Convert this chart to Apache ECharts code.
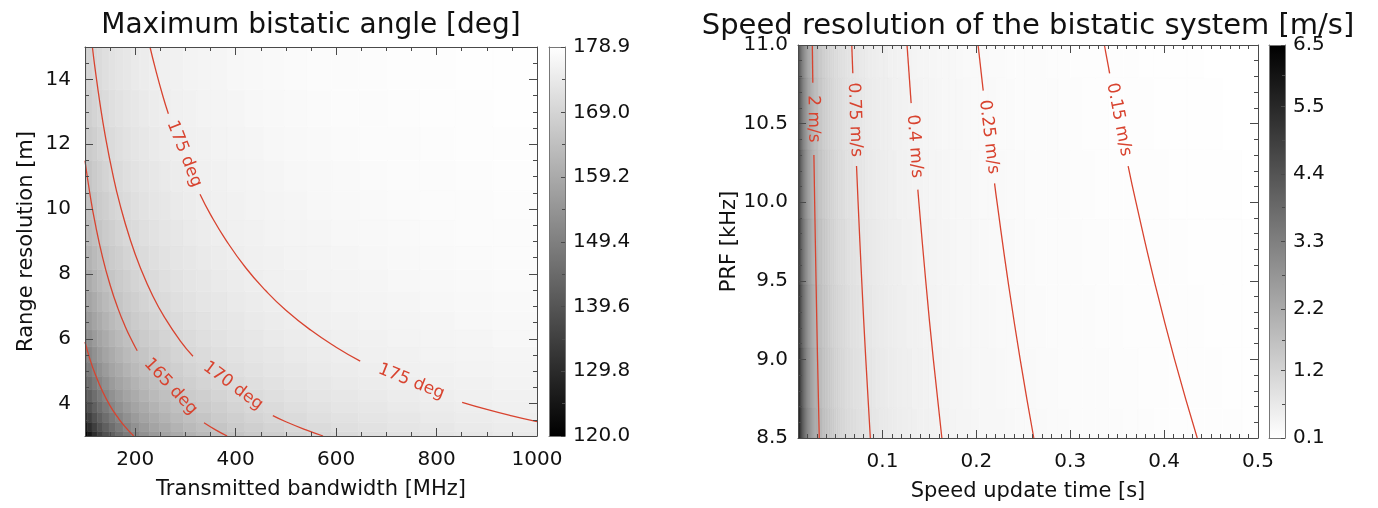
<!DOCTYPE html>
<html>
<head>
<meta charset="utf-8">
<script src="https://cdn.jsdelivr.net/npm/echarts@6/dist/echarts.min.js"></script>
<style>
  html, body { margin: 0; padding: 0; background: #ffffff; }
  #chart { width: 1378px; height: 508px; }
</style>
</head>
<body>
<div id="chart"></div>
<script>
// ---------- Panel 1: maximum bistatic angle ----------
// sample points (cell centres), spaced more finely where the angle changes fastest
const bandwidthMHz = [100, 109.05, 118.92, 129.68, 141.42, 154.22, 168.18, 183.40, 200, 218.10, 237.84,
  259.37, 282.84, 308.44, 336.36, 366.80, 400, 436.20, 475.68, 518.74, 565.69, 616.88, 672.72, 733.61,
  800, 872.41, 951.37];
const rangeResolutionM = [3, 3.2715, 3.5676, 3.8906, 4.2426, 4.6266, 5.0454, 5.5021, 6, 6.5431, 7.1352,
  7.7811, 8.4853, 9.2533, 10.0908, 11.0041, 12, 13.0861, 14.2705];
// one row per range resolution, one column per bandwidth, degrees
const bistaticAngleDeg = [
  [120.0, 125.4, 130.3, 134.6, 138.6, 142.2, 145.4, 148.4, 151.0, 153.5, 155.7, 157.8, 159.6, 161.3, 162.9, 164.3, 165.6, 166.8, 167.9, 168.9, 169.9, 170.7, 171.5, 172.2, 172.8, 173.4, 174.0],
  [125.4, 130.3, 134.6, 138.6, 142.2, 145.4, 148.4, 151.0, 153.5, 155.7, 157.8, 159.6, 161.3, 162.9, 164.3, 165.6, 166.8, 167.9, 168.9, 169.9, 170.7, 171.5, 172.2, 172.8, 173.4, 174.0, 174.5],
  [130.3, 134.6, 138.6, 142.2, 145.4, 148.4, 151.0, 153.5, 155.7, 157.8, 159.6, 161.3, 162.9, 164.3, 165.6, 166.8, 167.9, 168.9, 169.9, 170.7, 171.5, 172.2, 172.8, 173.4, 174.0, 174.5, 174.9],
  [134.6, 138.6, 142.2, 145.4, 148.4, 151.0, 153.5, 155.7, 157.8, 159.6, 161.3, 162.9, 164.3, 165.6, 166.8, 167.9, 168.9, 169.9, 170.7, 171.5, 172.2, 172.8, 173.4, 174.0, 174.5, 174.9, 175.4],
  [138.6, 142.2, 145.4, 148.4, 151.0, 153.5, 155.7, 157.8, 159.6, 161.3, 162.9, 164.3, 165.6, 166.8, 167.9, 168.9, 169.9, 170.7, 171.5, 172.2, 172.8, 173.4, 174.0, 174.5, 174.9, 175.4, 175.7],
  [142.2, 145.4, 148.4, 151.0, 153.5, 155.7, 157.8, 159.6, 161.3, 162.9, 164.3, 165.6, 166.8, 167.9, 168.9, 169.9, 170.7, 171.5, 172.2, 172.8, 173.4, 174.0, 174.5, 174.9, 175.4, 175.7, 176.1],
  [145.4, 148.4, 151.0, 153.5, 155.7, 157.8, 159.6, 161.3, 162.9, 164.3, 165.6, 166.8, 167.9, 168.9, 169.9, 170.7, 171.5, 172.2, 172.8, 173.4, 174.0, 174.5, 174.9, 175.4, 175.7, 176.1, 176.4],
  [148.4, 151.0, 153.5, 155.7, 157.8, 159.6, 161.3, 162.9, 164.3, 165.6, 166.8, 167.9, 168.9, 169.9, 170.7, 171.5, 172.2, 172.8, 173.4, 174.0, 174.5, 174.9, 175.4, 175.7, 176.1, 176.4, 176.7],
  [151.0, 153.5, 155.7, 157.8, 159.6, 161.3, 162.9, 164.3, 165.6, 166.8, 167.9, 168.9, 169.9, 170.7, 171.5, 172.2, 172.8, 173.4, 174.0, 174.5, 174.9, 175.4, 175.7, 176.1, 176.4, 176.7, 177.0],
  [153.5, 155.7, 157.8, 159.6, 161.3, 162.9, 164.3, 165.6, 166.8, 167.9, 168.9, 169.9, 170.7, 171.5, 172.2, 172.8, 173.4, 174.0, 174.5, 174.9, 175.4, 175.7, 176.1, 176.4, 176.7, 177.0, 177.2],
  [155.7, 157.8, 159.6, 161.3, 162.9, 164.3, 165.6, 166.8, 167.9, 168.9, 169.9, 170.7, 171.5, 172.2, 172.8, 173.4, 174.0, 174.5, 174.9, 175.4, 175.7, 176.1, 176.4, 176.7, 177.0, 177.2, 177.5],
  [157.8, 159.6, 161.3, 162.9, 164.3, 165.6, 166.8, 167.9, 168.9, 169.9, 170.7, 171.5, 172.2, 172.8, 173.4, 174.0, 174.5, 174.9, 175.4, 175.7, 176.1, 176.4, 176.7, 177.0, 177.2, 177.5, 177.7],
  [159.6, 161.3, 162.9, 164.3, 165.6, 166.8, 167.9, 168.9, 169.9, 170.7, 171.5, 172.2, 172.8, 173.4, 174.0, 174.5, 174.9, 175.4, 175.7, 176.1, 176.4, 176.7, 177.0, 177.2, 177.5, 177.7, 177.9],
  [161.3, 162.9, 164.3, 165.6, 166.8, 167.9, 168.9, 169.9, 170.7, 171.5, 172.2, 172.8, 173.4, 174.0, 174.5, 174.9, 175.4, 175.7, 176.1, 176.4, 176.7, 177.0, 177.2, 177.5, 177.7, 177.9, 178.0],
  [162.9, 164.3, 165.6, 166.8, 167.9, 168.9, 169.9, 170.7, 171.5, 172.2, 172.8, 173.4, 174.0, 174.5, 174.9, 175.4, 175.7, 176.1, 176.4, 176.7, 177.0, 177.2, 177.5, 177.7, 177.9, 178.0, 178.2],
  [164.3, 165.6, 166.8, 167.9, 168.9, 169.9, 170.7, 171.5, 172.2, 172.8, 173.4, 174.0, 174.5, 174.9, 175.4, 175.7, 176.1, 176.4, 176.7, 177.0, 177.2, 177.5, 177.7, 177.9, 178.0, 178.2, 178.4],
  [165.6, 166.8, 167.9, 168.9, 169.9, 170.7, 171.5, 172.2, 172.8, 173.4, 174.0, 174.5, 174.9, 175.4, 175.7, 176.1, 176.4, 176.7, 177.0, 177.2, 177.5, 177.7, 177.9, 178.0, 178.2, 178.4, 178.5],
  [166.8, 167.9, 168.9, 169.9, 170.7, 171.5, 172.2, 172.8, 173.4, 174.0, 174.5, 174.9, 175.4, 175.7, 176.1, 176.4, 176.7, 177.0, 177.2, 177.5, 177.7, 177.9, 178.0, 178.2, 178.4, 178.5, 178.6],
  [167.9, 168.9, 169.9, 170.7, 171.5, 172.2, 172.8, 173.4, 174.0, 174.5, 174.9, 175.4, 175.7, 176.1, 176.4, 176.7, 177.0, 177.2, 177.5, 177.7, 177.9, 178.0, 178.2, 178.4, 178.5, 178.6, 178.7]
];
const bandwidthTicks = [200, 400, 600, 800, 1000];
const rangeTicks = [4, 6, 8, 10, 12, 14];
const angleBarTicks = [120.0, 129.8, 139.6, 149.4, 159.2, 169.0, 178.9];

// iso-angle lines as [bandwidth, range resolution] runs; a label sits in each gap
const angle150 = [
  [[100, 5.9], [110, 5.36], [120, 4.92], [135, 4.37], [150, 3.93], [165, 3.58], [180, 3.28], [197, 3.0]]
];
const angle165 = [
  [[100, 11.49], [110, 10.45], [120, 9.58], [135, 8.51], [150, 7.66], [165, 6.96], [180, 6.38], [195, 5.89], [204, 5.63]],
  [[337, 3.41], [360, 3.19], [383, 3.0]]
];
const angle170 = [
  [[114.7, 15], [120, 14.34], [130, 13.24], [140, 12.29], [155, 11.10], [170, 10.12], [190, 9.06], [210, 8.20],
   [235, 7.32], [260, 6.62], [290, 5.93], [315, 5.46]],
  [[474, 3.63], [500, 3.44], [540, 3.19], [574, 3.0]]
];
const angle175 = [
  [[229.4, 15], [240, 14.34], [255, 13.49], [266, 12.94]],
  [[329, 10.46], [350, 9.83], [380, 9.06], [420, 8.19], [460, 7.48], [500, 6.88], [550, 6.26], [600, 5.74], [648, 5.31]],
  [[851, 4.04], [900, 3.82], [950, 3.62], [1000, 3.44]]
];
const angleContours = [
  { runs: angle150, labels: [] },
  { runs: angle165, labels: ['165 deg'] },
  { runs: angle170, labels: ['170 deg'] },
  { runs: angle175, labels: ['175 deg', '175 deg'] }
];

// ---------- Panel 2: speed resolution ----------
const updateTimeS = [
  0.01, 0.010443, 0.010905, 0.011388, 0.011892, 0.012419, 0.012968, 0.013543, 0.014142, 0.014768, 0.015422, 0.016105, 0.016818, 0.017563, 0.018340, 0.019152,
  0.02, 0.020885, 0.021810, 0.022776, 0.023784, 0.024837, 0.025937, 0.027085, 0.028284, 0.029537, 0.030844, 0.032210, 0.033636, 0.035125, 0.036680, 0.038304,
  0.04, 0.041771, 0.043620, 0.045552, 0.047568, 0.049674, 0.051874, 0.054170, 0.056569, 0.059073, 0.061688, 0.064420, 0.067272, 0.070250, 0.073360, 0.076608,
  0.08, 0.083542, 0.087241, 0.091103, 0.095137, 0.099349, 0.103747, 0.108340, 0.113137, 0.118146, 0.123377, 0.128839, 0.134543, 0.140500, 0.146721, 0.153217,
  0.16, 0.167084, 0.174481, 0.182206, 0.190273, 0.198697, 0.207494, 0.216681, 0.226274, 0.236292, 0.246754, 0.257678, 0.269087, 0.281000, 0.293441, 0.306433,
  0.32, 0.334168, 0.348963, 0.364412, 0.380546, 0.397395, 0.414989, 0.433362, 0.452548, 0.472584, 0.493507
];
const prfKHz = [8.5, 8.876, 9.269, 9.680, 10.108, 10.556, 11.023];
// one row per PRF, one column per update time, m/s
const speedResolution = [
  [6.53, 6.25, 5.99, 5.73, 5.49, 5.26, 5.03, 4.82, 4.62, 4.42, 4.23, 4.05, 3.88, 3.72, 3.56, 3.41,
   3.26, 3.13, 2.99, 2.87, 2.75, 2.63, 2.52, 2.41, 2.31, 2.21, 2.12, 2.03, 1.94, 1.86, 1.78, 1.70,
   1.63, 1.56, 1.50, 1.43, 1.37, 1.31, 1.26, 1.21, 1.15, 1.11, 1.06, 1.01, 0.97, 0.93, 0.89, 0.85,
   0.82, 0.78, 0.75, 0.72, 0.69, 0.66, 0.63, 0.60, 0.58, 0.55, 0.53, 0.51, 0.49, 0.46, 0.45, 0.43,
   0.41, 0.39, 0.37, 0.36, 0.34, 0.33, 0.31, 0.30, 0.29, 0.28, 0.26, 0.25, 0.24, 0.23, 0.22, 0.21,
   0.20, 0.20, 0.19, 0.18, 0.17, 0.16, 0.16, 0.15, 0.14, 0.14, 0.13],
  [6.25, 5.99, 5.73, 5.49, 5.26, 5.03, 4.82, 4.62, 4.42, 4.23, 4.05, 3.88, 3.72, 3.56, 3.41, 3.26,
   3.13, 2.99, 2.87, 2.75, 2.63, 2.52, 2.41, 2.31, 2.21, 2.12, 2.03, 1.94, 1.86, 1.78, 1.70, 1.63,
   1.56, 1.50, 1.43, 1.37, 1.31, 1.26, 1.21, 1.15, 1.11, 1.06, 1.01, 0.97, 0.93, 0.89, 0.85, 0.82,
   0.78, 0.75, 0.72, 0.69, 0.66, 0.63, 0.60, 0.58, 0.55, 0.53, 0.51, 0.49, 0.46, 0.45, 0.43, 0.41,
   0.39, 0.37, 0.36, 0.34, 0.33, 0.31, 0.30, 0.29, 0.28, 0.26, 0.25, 0.24, 0.23, 0.22, 0.21, 0.20,
   0.20, 0.19, 0.18, 0.17, 0.16, 0.16, 0.15, 0.14, 0.14, 0.13, 0.13],
  [5.99, 5.73, 5.49, 5.26, 5.03, 4.82, 4.62, 4.42, 4.23, 4.05, 3.88, 3.72, 3.56, 3.41, 3.26, 3.13,
   2.99, 2.87, 2.75, 2.63, 2.52, 2.41, 2.31, 2.21, 2.12, 2.03, 1.94, 1.86, 1.78, 1.70, 1.63, 1.56,
   1.50, 1.43, 1.37, 1.31, 1.26, 1.21, 1.15, 1.11, 1.06, 1.01, 0.97, 0.93, 0.89, 0.85, 0.82, 0.78,
   0.75, 0.72, 0.69, 0.66, 0.63, 0.60, 0.58, 0.55, 0.53, 0.51, 0.49, 0.46, 0.45, 0.43, 0.41, 0.39,
   0.37, 0.36, 0.34, 0.33, 0.31, 0.30, 0.29, 0.28, 0.26, 0.25, 0.24, 0.23, 0.22, 0.21, 0.20, 0.20,
   0.19, 0.18, 0.17, 0.16, 0.16, 0.15, 0.14, 0.14, 0.13, 0.13, 0.12],
  [5.73, 5.49, 5.26, 5.03, 4.82, 4.62, 4.42, 4.23, 4.05, 3.88, 3.72, 3.56, 3.41, 3.26, 3.13, 2.99,
   2.87, 2.75, 2.63, 2.52, 2.41, 2.31, 2.21, 2.12, 2.03, 1.94, 1.86, 1.78, 1.70, 1.63, 1.56, 1.50,
   1.43, 1.37, 1.31, 1.26, 1.21, 1.15, 1.11, 1.06, 1.01, 0.97, 0.93, 0.89, 0.85, 0.82, 0.78, 0.75,
   0.72, 0.69, 0.66, 0.63, 0.60, 0.58, 0.55, 0.53, 0.51, 0.49, 0.46, 0.45, 0.43, 0.41, 0.39, 0.37,
   0.36, 0.34, 0.33, 0.31, 0.30, 0.29, 0.28, 0.26, 0.25, 0.24, 0.23, 0.22, 0.21, 0.20, 0.20, 0.19,
   0.18, 0.17, 0.16, 0.16, 0.15, 0.14, 0.14, 0.13, 0.13, 0.12, 0.12],
  [5.49, 5.26, 5.03, 4.82, 4.62, 4.42, 4.23, 4.05, 3.88, 3.72, 3.56, 3.41, 3.26, 3.13, 2.99, 2.87,
   2.75, 2.63, 2.52, 2.41, 2.31, 2.21, 2.12, 2.03, 1.94, 1.86, 1.78, 1.70, 1.63, 1.56, 1.50, 1.43,
   1.37, 1.31, 1.26, 1.21, 1.15, 1.11, 1.06, 1.01, 0.97, 0.93, 0.89, 0.85, 0.82, 0.78, 0.75, 0.72,
   0.69, 0.66, 0.63, 0.60, 0.58, 0.55, 0.53, 0.51, 0.49, 0.46, 0.45, 0.43, 0.41, 0.39, 0.37, 0.36,
   0.34, 0.33, 0.31, 0.30, 0.29, 0.28, 0.26, 0.25, 0.24, 0.23, 0.22, 0.21, 0.20, 0.20, 0.19, 0.18,
   0.17, 0.16, 0.16, 0.15, 0.14, 0.14, 0.13, 0.13, 0.12, 0.12, 0.11],
  [5.26, 5.03, 4.82, 4.62, 4.42, 4.23, 4.05, 3.88, 3.72, 3.56, 3.41, 3.26, 3.13, 2.99, 2.87, 2.75,
   2.63, 2.52, 2.41, 2.31, 2.21, 2.12, 2.03, 1.94, 1.86, 1.78, 1.70, 1.63, 1.56, 1.50, 1.43, 1.37,
   1.31, 1.26, 1.21, 1.15, 1.11, 1.06, 1.01, 0.97, 0.93, 0.89, 0.85, 0.82, 0.78, 0.75, 0.72, 0.69,
   0.66, 0.63, 0.60, 0.58, 0.55, 0.53, 0.51, 0.49, 0.46, 0.45, 0.43, 0.41, 0.39, 0.37, 0.36, 0.34,
   0.33, 0.31, 0.30, 0.29, 0.28, 0.26, 0.25, 0.24, 0.23, 0.22, 0.21, 0.20, 0.20, 0.19, 0.18, 0.17,
   0.16, 0.16, 0.15, 0.14, 0.14, 0.13, 0.13, 0.12, 0.12, 0.11, 0.11],
  [5.03, 4.82, 4.62, 4.42, 4.23, 4.05, 3.88, 3.72, 3.56, 3.41, 3.26, 3.13, 2.99, 2.87, 2.75, 2.63,
   2.52, 2.41, 2.31, 2.21, 2.12, 2.03, 1.94, 1.86, 1.78, 1.70, 1.63, 1.56, 1.50, 1.43, 1.37, 1.31,
   1.26, 1.21, 1.15, 1.11, 1.06, 1.01, 0.97, 0.93, 0.89, 0.85, 0.82, 0.78, 0.75, 0.72, 0.69, 0.66,
   0.63, 0.60, 0.58, 0.55, 0.53, 0.51, 0.49, 0.46, 0.45, 0.43, 0.41, 0.39, 0.37, 0.36, 0.34, 0.33,
   0.31, 0.30, 0.29, 0.28, 0.26, 0.25, 0.24, 0.23, 0.22, 0.21, 0.20, 0.20, 0.19, 0.18, 0.17, 0.16,
   0.16, 0.15, 0.14, 0.14, 0.13, 0.13, 0.12, 0.12, 0.11, 0.11, 0.10]
];
const timeTicks = [0.1, 0.2, 0.3, 0.4, 0.5];
const prfTicks = [8.5, 9.0, 9.5, 10.0, 10.5, 11.0];
const speedBarTicks = [0.1, 1.2, 2.2, 3.3, 4.4, 5.5, 6.5];

// iso-speed lines as [update time, PRF] runs
const speed2 = [
  [[0.02523, 11.0], [0.02579, 10.76]],
  [[0.02694, 10.30], [0.02775, 10.0], [0.02921, 9.5], [0.03083, 9.0], [0.03265, 8.5]]
];
const speed075 = [
  [[0.06727, 11.0], [0.06839, 10.82]],
  [[0.07234, 10.23], [0.07400, 10.0], [0.07789, 9.5], [0.08222, 9.0], [0.08706, 8.5]]
];
const speed04 = [
  [[0.12614, 11.0], [0.13053, 10.63]],
  [[0.13765, 10.08], [0.13875, 10.0], [0.14605, 9.5], [0.15417, 9.0], [0.16324, 8.5]]
];
const speed025 = [
  [[0.20182, 11.0], [0.20728, 10.71]],
  [[0.21937, 10.12], [0.22200, 10.0], [0.23368, 9.5], [0.24667, 9.0], [0.26118, 8.5]]
];
const speed015 = [
  [[0.33636, 11.0], [0.34196, 10.82]],
  [[0.36168, 10.23], [0.37000, 10.0], [0.38947, 9.5], [0.41111, 9.0], [0.43529, 8.5]]
];
const speedContours = [
  { runs: speed2, labels: ['2 m/s'] },
  { runs: speed075, labels: ['0.75 m/s'] },
  { runs: speed04, labels: ['0.4 m/s'] },
  { runs: speed025, labels: ['0.25 m/s'] },
  { runs: speed015, labels: ['0.15 m/s'] }
];

// ---------- styling ----------
const FONT = 'DejaVu Sans';
const INK = '#111111';
const FRAME = '#4a4a4a';
const RED = '#d8432f';

// ---------- helpers ----------
// cell boundaries halfway between sample points, outer cells reaching the axis limits
function cellEdges(centers, lo, hi) {
  const e = [lo];
  for (let i = 1; i < centers.length; i++) e.push((centers[i - 1] + centers[i]) / 2);
  e.push(hi);
  return e;
}
function cellData(xs, xLo, xHi, ys, yLo, yHi, rows) {
  const xe = cellEdges(xs, xLo, xHi), ye = cellEdges(ys, yLo, yHi), out = [];
  for (let j = 0; j < ys.length; j++) {
    for (let i = 0; i < xs.length; i++) {
      out.push([xe[i], xe[i + 1], ye[j], ye[j + 1], rows[j][i]]);
    }
  }
  return out;
}
function between(ticks) {
  const m = [];
  for (let i = 1; i < ticks.length; i++) m.push((ticks[i - 1] + ticks[i]) / 2);
  return m;
}
function steps(from, to, step, skip) {
  const v = [];
  const n = Math.round((to - from) / step);
  for (let k = 0; k <= n; k++) {
    const x = +(from + k * step).toFixed(6);
    if (!skip.some(s => Math.abs(s - x) < step / 10)) v.push(x);
  }
  return v;
}

const xAxes = [], yAxes = [];
function addAxis(list, cfg) { list.push(cfg); return list.length - 1; }

function baseAxis(gridIndex, min, max, position) {
  return {
    type: 'value', gridIndex, min, max, position, silent: true, z: 6,
    splitLine: { show: false },
    axisLine: { show: false, onZero: false, lineStyle: { color: FRAME, width: 1 } },
    axisTick: { show: false },
    axisLabel: { show: false }
  };
}
function ticksOf(values, len) {
  return { show: true, inside: true, length: len, customValues: values, lineStyle: { color: FRAME, width: 1 } };
}
// boxed axis: labelled side + mirrored side, each with major and minor ticks
function boxedAxis(list, dimIsX, gridIndex, o) {
  const near = dimIsX ? 'bottom' : 'left';
  const far = dimIsX ? 'top' : 'right';
  const main = baseAxis(gridIndex, o.min, o.max, near);
  main.axisLine.show = true;
  main.axisTick = ticksOf(o.major, 8);
  main.axisLabel = {
    show: true, customValues: o.major, formatter: o.fmt, margin: o.margin,
    color: INK, fontSize: 20, fontFamily: FONT
  };
  main.name = o.name;
  main.nameLocation = 'middle';
  main.nameGap = o.nameGap;
  main.nameTextStyle = { color: INK, fontSize: 21, fontFamily: FONT };
  const idx = addAxis(list, main);
  const minorNear = baseAxis(gridIndex, o.min, o.max, near);
  minorNear.axisTick = ticksOf(o.minor, 4);
  addAxis(list, minorNear);
  const mirror = baseAxis(gridIndex, o.min, o.max, far);
  mirror.axisLine.show = true;
  mirror.axisTick = ticksOf(o.major, 8);
  addAxis(list, mirror);
  const minorFar = baseAxis(gridIndex, o.min, o.max, far);
  minorFar.axisTick = ticksOf(o.minor, 4);
  addAxis(list, minorFar);
  return idx;
}
// colour bar frame + labelled right-hand axis
function colorBarAxes(gridIndex, min, max, ticks) {
  const frame = { color: '#777', width: 1 };
  const xb = baseAxis(gridIndex, 0, 1, 'bottom');
  xb.axisLine.show = true; xb.axisLine.lineStyle = frame;
  const xi = addAxis(xAxes, xb);
  const xt = baseAxis(gridIndex, 0, 1, 'top');
  xt.axisLine.show = true; xt.axisLine.lineStyle = frame;
  addAxis(xAxes, xt);
  const yl = baseAxis(gridIndex, min, max, 'left');
  yl.axisLine.show = true; yl.axisLine.lineStyle = frame;
  addAxis(yAxes, yl);
  const yr = baseAxis(gridIndex, min, max, 'right');
  yr.axisLine.show = true; yr.axisLine.lineStyle = frame;
  yr.axisTick = ticksOf(ticks, 4);
  yr.axisLabel = {
    show: true, customValues: ticks, formatter: v => v.toFixed(1), margin: 8,
    color: INK, fontSize: 20, fontFamily: FONT
  };
  const yi = addAxis(yAxes, yr);
  const ym = baseAxis(gridIndex, min, max, 'right');
  ym.axisTick = ticksOf(between(ticks), 3);
  addAxis(yAxes, ym);
  return [xi, yi];
}

// ---------- grids ----------
const grids = [
  { left: 85, top: 47, width: 452, height: 389 },    // angle map
  { left: 549, top: 47, width: 16, height: 389 },    // angle colour bar
  { left: 798, top: 45, width: 460, height: 393 },   // speed map
  { left: 1269, top: 45, width: 16, height: 393 }    // speed colour bar
];

const axA = boxedAxis(xAxes, true, 0, {
  min: 100, max: 1000, major: bandwidthTicks, minor: steps(150, 950, 50, bandwidthTicks),
  fmt: v => String(v), margin: 14, name: 'Transmitted bandwidth [MHz]', nameGap: 43
});
const ayA = boxedAxis(yAxes, false, 0, {
  min: 3, max: 15, major: rangeTicks, minor: steps(3.5, 14.5, 0.5, rangeTicks),
  fmt: v => String(v), margin: 14, name: 'Range resolution [m]', nameGap: 48
});
const [cbAx, cbAy] = colorBarAxes(1, 120.0, 178.9, angleBarTicks);

const axS = boxedAxis(xAxes, true, 2, {
  min: 0.01, max: 0.5, major: timeTicks, minor: steps(0.02, 0.49, 0.01, timeTicks),
  fmt: v => v.toFixed(1), margin: 14, name: 'Speed update time [s]', nameGap: 43
});
const ayS = boxedAxis(yAxes, false, 2, {
  min: 8.5, max: 11.0, major: prfTicks, minor: steps(8.6, 10.9, 0.1, prfTicks),
  fmt: v => v.toFixed(1), margin: 10, name: 'PRF [kHz]', nameGap: 58
});
const [cbSx, cbSy] = colorBarAxes(3, 0.1, 6.5, speedBarTicks);

// ---------- series builders ----------
function renderCell(params, api) {
  const p0 = api.coord([api.value(0), api.value(2)]);
  const p1 = api.coord([api.value(1), api.value(3)]);
  const rect = echarts.graphic.clipRectByRect({
    x: Math.min(p0[0], p1[0]), y: Math.min(p0[1], p1[1]),
    width: Math.abs(p1[0] - p0[0]), height: Math.abs(p1[1] - p0[1])
  }, params.coordSys);
  if (!rect) return;
  const c = api.visual('color');
  return { type: 'rect', shape: rect, style: { fill: c, stroke: c, lineWidth: 0.6 } };
}
function mapSeries(xi, yi, data) {
  return {
    type: 'custom', xAxisIndex: xi, yAxisIndex: yi, data,
    dimensions: ['x0', 'x1', 'y0', 'y1', 'v'],
    encode: { x: [0, 1], y: [2, 3] },
    renderItem: renderCell, silent: true, z: 1, clip: true
  };
}
function barSeries(xi, yi, min, max, topColor, bottomColor) {
  return {
    type: 'custom', xAxisIndex: xi, yAxisIndex: yi, silent: true, z: 1,
    data: [[0, min, 1, max]], encode: { x: [0, 2], y: [1, 3] },
    renderItem: (params, api) => {
      const a = api.coord([api.value(0), api.value(1)]);
      const b = api.coord([api.value(2), api.value(3)]);
      return {
        type: 'rect',
        shape: { x: a[0], y: b[1], width: b[0] - a[0], height: a[1] - b[1] },
        style: { fill: new echarts.graphic.LinearGradient(0, 0, 0, 1, [
          { offset: 0, color: topColor }, { offset: 1, color: bottomColor }]) }
      };
    }
  };
}
function contourSeries(xi, yi, contours) {
  const out = [];
  const gaps = [], texts = [];
  contours.forEach(c => {
    c.runs.forEach((run, k) => {
      out.push({
        type: 'line', xAxisIndex: xi, yAxisIndex: yi, data: run, smooth: true,
        showSymbol: false, symbol: 'none', silent: true, z: 3, clip: true,
        lineStyle: { color: RED, width: 1.3 }
      });
      if (k < c.runs.length - 1 && c.labels[k]) {
        const a = run[run.length - 1], b = c.runs[k + 1][0];
        gaps.push([a[0], a[1], b[0], b[1]]);
        texts.push(c.labels[k]);
      }
    });
  });
  out.push({
    type: 'custom', xAxisIndex: xi, yAxisIndex: yi, data: gaps, silent: true, z: 4,
    encode: { x: [0, 2], y: [1, 3] },
    renderItem: (params, api) => {
      const a = api.coord([api.value(0), api.value(1)]);
      const b = api.coord([api.value(2), api.value(3)]);
      const ang = Math.atan2(b[1] - a[1], b[0] - a[0]);
      return {
        type: 'text', x: (a[0] + b[0]) / 2, y: (a[1] + b[1]) / 2, rotation: -ang,
        style: { text: texts[params.dataIndex], fill: RED, fontSize: 17, fontFamily: FONT,
                 align: 'center', verticalAlign: 'middle' }
      };
    }
  });
  return out;
}

const series = [];
series.push(mapSeries(axA, ayA, cellData(bandwidthMHz, 100, 1000, rangeResolutionM, 3, 15, bistaticAngleDeg)));
const angleMapIndex = 0;
series.push(mapSeries(axS, ayS, cellData(updateTimeS, 0.01, 0.5, prfKHz, 8.5, 11.0, speedResolution)));
const speedMapIndex = 1;
series.push(barSeries(cbAx, cbAy, 120.0, 178.9, '#ffffff', '#000000'));
series.push(barSeries(cbSx, cbSy, 0.1, 6.5, '#000000', '#ffffff'));
series.push(...contourSeries(axA, ayA, angleContours));
series.push(...contourSeries(axS, ayS, speedContours));

const chart = echarts.init(document.getElementById('chart'), null, { renderer: 'canvas' });
chart.setOption({
  animation: false,
  backgroundColor: '#ffffff',
  grid: grids,
  xAxis: xAxes,
  yAxis: yAxes,
  visualMap: [
    { type: 'continuous', show: false, seriesIndex: angleMapIndex, dimension: 4,
      min: 120.0, max: 178.9, inRange: { color: ['#000000', '#ffffff'] } },
    { type: 'continuous', show: false, seriesIndex: speedMapIndex, dimension: 4,
      min: 0.1, max: 6.5, inRange: { color: ['#ffffff', '#000000'] } }
  ],
  graphic: [
    { type: 'text', x: 311, y: 26, style: { text: 'Maximum bistatic angle [deg]', fill: INK,
      fontSize: 28, fontFamily: FONT, align: 'center', verticalAlign: 'middle' } },
    { type: 'text', x: 1028, y: 26, style: { text: 'Speed resolution of the bistatic system [m/s]', fill: INK,
      fontSize: 29, fontFamily: FONT, align: 'center', verticalAlign: 'middle' } }
  ],
  series
});
</script>
</body>
</html>
